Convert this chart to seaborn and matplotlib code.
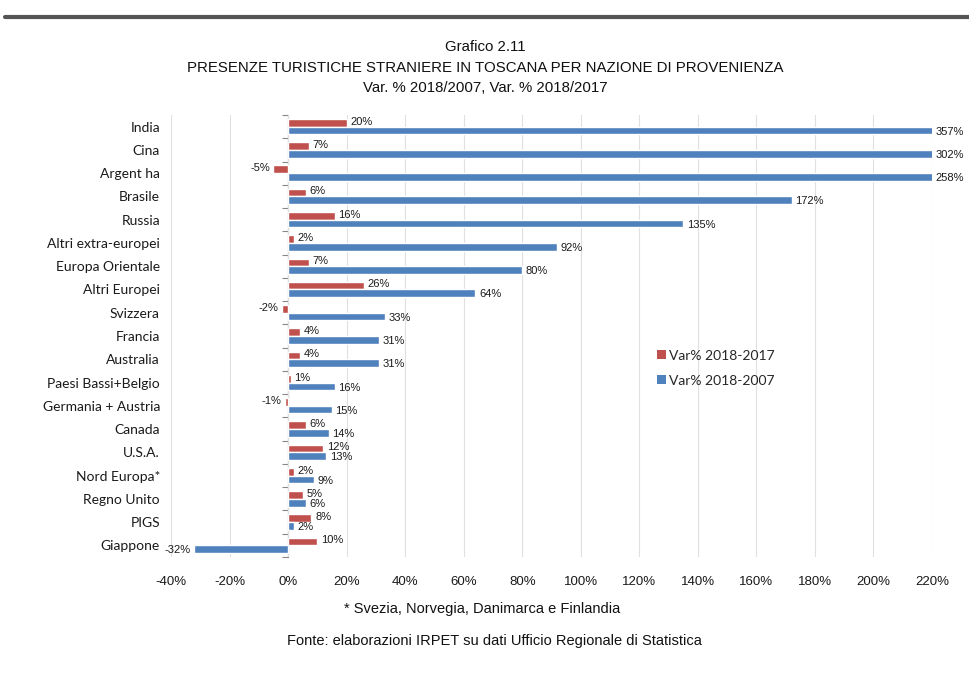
import matplotlib
matplotlib.use("Agg")
import matplotlib.pyplot as plt
import seaborn as sns
import pandas as pd
from matplotlib.patches import Patch
from matplotlib.lines import Line2D

categories = ["India", "Cina", "Argent ha", "Brasile", "Russia", "Altri extra-europei",
              "Europa Orientale", "Altri Europei", "Svizzera", "Francia", "Australia",
              "Paesi Bassi+Belgio", "Germania + Austria", "Canada", "U.S.A.",
              "Nord Europa*", "Regno Unito", "PIGS", "Giappone"]
var_2018_2017 = [20, 7, -5, 6, 16, 2, 7, 26, -2, 4, 4, 1, -1, 6, 12, 2, 5, 8, 10]
var_2018_2007 = [357, 302, 258, 172, 135, 92, 80, 64, 33, 31, 31, 16, 15, 14, 13, 9, 6, 2, -32]
series_names = ["Var% 2018-2017", "Var% 2018-2007"]
x_ticks = list(range(-40, 221, 20))

colors = ["#C0504D", "#4F81BD"]

df = pd.DataFrame({
    "cat": categories * 2,
    "serie": [series_names[0]] * len(categories) + [series_names[1]] * len(categories),
    "val": var_2018_2017 + var_2018_2007,
})

sns.set_theme(style="white")
plt.rcParams["font.family"] = ["Liberation Sans", "DejaVu Sans"]

fig = plt.figure(figsize=(9.7, 6.75), dpi=100)
ax = fig.add_axes([171 / 970, 1 - 557 / 675, (932 - 171) / 970, (557 - 115) / 675])

sns.barplot(data=df, y="cat", x="val", hue="serie", order=categories,
            hue_order=series_names, palette=colors, orient="h", width=0.66,
            ax=ax, legend=False, saturation=1)

xmin, xmax = -40, 220
ax.set_xlim(xmin, xmax)
ax.set_xticks(x_ticks)
ax.set_xticklabels([f"{t}%" for t in x_ticks], fontsize=9.5, color="#1a1a1a")
ax.tick_params(axis="x", length=0, pad=14)
ax.tick_params(axis="y", length=0, pad=8)
for lbl in ax.get_yticklabels():
    lbl.set_fontfamily(["Lato", "DejaVu Sans"])
    lbl.set_fontsize(10)
    lbl.set_color("#1a1a1a")
ax.set_xlabel("")
ax.set_ylabel("")
for s in ax.spines.values():
    s.set_visible(False)
ax.grid(axis="x", color="#e0e0e0", linewidth=0.8)
ax.set_axisbelow(True)

# vertical axis at 0 with tick marks at category boundaries
sec = ax.secondary_yaxis((0 - xmin) / (xmax - xmin))
sec.set_yticks([i - 0.5 for i in range(len(categories) + 1)])
sec.set_yticklabels([])
sec.tick_params(axis="y", length=4, width=0.8, color="#888888", direction="out")
sec.spines["left"].set_color("#888888")
sec.spines["left"].set_linewidth(0.8)
for k in ["right", "top", "bottom"]:
    sec.spines[k].set_visible(False)

# data labels
label_fs = 8
for series_idx, container in enumerate(ax.containers):
    vals = var_2018_2017 if series_idx == 0 else var_2018_2007
    dy = -0.05 if series_idx == 0 else 0.05
    for bar, v in zip(container, vals):
        yc = bar.get_y() + bar.get_height() / 2 + dy
        if v >= 0:
            xe = min(v, xmax)
            ax.text(xe + 1.2, yc, f"{v}%", ha="left", va="center",
                    fontsize=label_fs, color="#1a1a1a", clip_on=False)
        else:
            ax.text(v - 1.2, yc, f"{v}%", ha="right", va="center",
                    fontsize=label_fs, color="#1a1a1a", clip_on=False)

# legend
handles = [Patch(facecolor=colors[0], edgecolor="none"),
           Patch(facecolor=colors[1], edgecolor="none")]
leg = fig.legend(handles, series_names, loc="upper left",
                 bbox_to_anchor=(645 / 970, 1 - 337 / 675), frameon=False,
                 handlelength=0.6, handleheight=0.6, handletextpad=0.25,
                 labelspacing=0.95, prop={"family": "Lato", "size": 10})

# titles
fig.text(0.5, 1 - 47 / 675, "Grafico 2.11", ha="center", va="center", fontsize=10.8, color="#111111")
fig.text(0.5, 1 - 68 / 675, "PRESENZE TURISTICHE STRANIERE IN TOSCANA PER NAZIONE DI PROVENIENZA",
         ha="center", va="center", fontsize=10.8, color="#111111")
fig.text(0.5, 1 - 88 / 675, "Var. % 2018/2007, Var. % 2018/2017", ha="center", va="center",
         fontsize=10.8, color="#111111")

# footnotes
fig.text(482 / 970, 1 - 609 / 675, "* Svezia, Norvegia, Danimarca e Finlandia",
         ha="center", va="center", fontsize=10.5, color="#111111")
fig.text(494 / 970, 1 - 641 / 675, "Fonte: elaborazioni IRPET su dati Ufficio Regionale di Statistica",
         ha="center", va="center", fontsize=10.5, color="#111111")

# top rule
fig.add_artist(Line2D([5 / 970, 1.0], [1 - 17 / 675, 1 - 17 / 675],
                      transform=fig.transFigure, color="#555555", linewidth=3))

fig.savefig("out.png", dpi=100)
